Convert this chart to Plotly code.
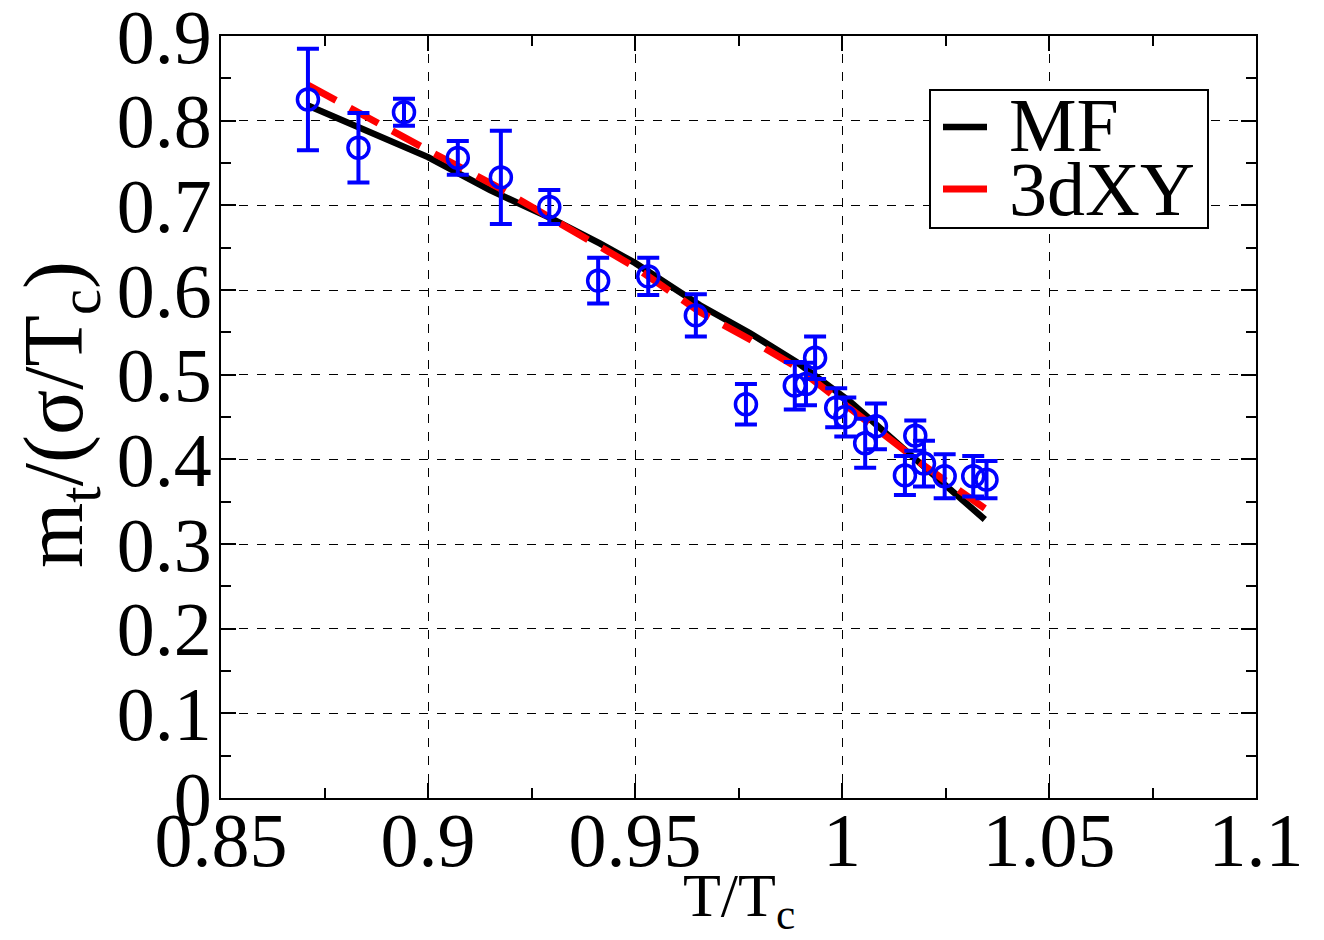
import plotly.graph_objects as go

# Measured top-mode mass over reduced temperature
T_data = [0.871, 0.8832, 0.8942, 0.9072, 0.9176, 0.9293, 0.9411, 0.9532, 0.9647,
          0.9768, 0.9886, 0.9913, 0.9935, 0.9986, 1.0008, 1.0056, 1.0082, 1.0152,
          1.0177, 1.0198, 1.0248, 1.0317, 1.0349]
m_data = [0.825, 0.768, 0.810, 0.756, 0.733, 0.698, 0.611, 0.616, 0.570,
          0.465, 0.487, 0.489, 0.520, 0.461, 0.450, 0.419, 0.439, 0.381,
          0.428, 0.395, 0.380, 0.380, 0.376]
m_err = [0.060, 0.041, 0.016, 0.020, 0.055, 0.020, 0.027, 0.022, 0.025,
         0.024, 0.028, 0.025, 0.025, 0.023, 0.023, 0.029, 0.027, 0.023,
         0.018, 0.027, 0.026, 0.024, 0.022]

# Mean-field fit curve
T_mf = [0.871, 0.885, 0.900, 0.915, 0.930, 0.9415, 0.950, 0.9657, 0.9778,
        0.989, 1.002, 1.018, 1.0345]
m_mf = [0.818, 0.788, 0.757, 0.718, 0.684, 0.655, 0.632, 0.582, 0.549,
        0.515, 0.468, 0.399, 0.329]

# 3d XY fit curve
T_xy = [0.871, 0.885, 0.900, 0.9174, 0.935, 0.950, 0.9657, 0.978, 0.989,
        1.0063, 1.020, 1.0345]
m_xy = [0.842, 0.804, 0.765, 0.720, 0.670, 0.627, 0.574, 0.541, 0.509,
        0.4425, 0.392, 0.342]

x_ticks = [0.85, 0.9, 0.95, 1.0, 1.05, 1.1]
x_ticktext = ["0.85", "0.9", "0.95", "1", "1.05", "1.1"]
y_ticks = [0, 0.1, 0.2, 0.3, 0.4, 0.5, 0.6, 0.7, 0.8, 0.9]
y_ticktext = ["0", "0.1", "0.2", "0.3", "0.4", "0.5", "0.6", "0.7", "0.8", "0.9"]

FONT = "Liberation Serif"
MF_COLOR = "black"
XY_COLOR = "#ff0000"
DATA_COLOR = "#0000ff"

# plot-area geometry in pixels, used to place the legend box and titles
W, H = 1324, 940
L, R, T, B = 221, 68, 36, 142
PW, PH = W - L - R, H - T - B


def px_x(p):
    return (p - L) / PW


def px_y(p):
    return (H - B - p) / PH


fig = go.Figure()

fig.add_trace(go.Scatter(
    x=T_mf, y=m_mf, mode="lines", name="MF", showlegend=False,
    line=dict(color=MF_COLOR, width=6.5),
))
fig.add_trace(go.Scatter(
    x=T_xy, y=m_xy, mode="lines", name="3dXY", showlegend=False,
    line=dict(color=XY_COLOR, width=7, dash="32px,16px"),
))
fig.add_trace(go.Scatter(
    x=T_data, y=m_data, mode="markers", showlegend=False,
    marker=dict(symbol="circle-open", size=21, color=DATA_COLOR,
                line=dict(color=DATA_COLOR, width=3.5)),
    error_y=dict(type="data", array=m_err, visible=True,
                 color=DATA_COLOR, thickness=4, width=11),
))

axis_common = dict(
    showline=True, linecolor="black", linewidth=2, mirror="ticks",
    ticks="inside", ticklen=15, tickwidth=1.5, tickcolor="black",
    showgrid=True, gridcolor="black", gridwidth=1, griddash="dash",
    zeroline=False, automargin=False, ticklabeloverflow="allow",
    tickfont=dict(family=FONT, size=76, color="black"),
)

fig.update_xaxes(
    range=[0.85, 1.1], tickvals=x_ticks, ticktext=x_ticktext,
    minor=dict(dtick=0.025, ticks="inside", ticklen=10, tickcolor="black",
               tickwidth=1.5, showgrid=False),
    ticklabelstandoff=-25,
    **axis_common,
)
fig.update_yaxes(
    range=[0, 0.9], tickvals=y_ticks, ticktext=y_ticktext,
    minor=dict(dtick=0.05, ticks="inside", ticklen=10, tickcolor="black",
               tickwidth=1.5, showgrid=False),
    ticklabelstandoff=-8,
    **axis_common,
)

# axis titles
annotations = [
    dict(text="T/T<sub>c</sub>", xref="paper", yref="paper",
         x=0.5, y=px_y(859), xanchor="center", yanchor="top", showarrow=False,
         font=dict(family=FONT, size=62, color="black")),
    dict(text="m<sub>t</sub>/(σ/T<sub>c</sub>)", xref="paper", yref="paper",
         x=px_x(60), y=px_y(415), xanchor="center", yanchor="middle",
         textangle=-90, showarrow=False,
         font=dict(family=FONT, size=84, color="black")),
]

# legend box with line samples
legend_items = [("MF", MF_COLOR, 6.5, 127, 125), ("3dXY", XY_COLOR, 7, 189, 189)]
shapes = [
    dict(type="rect", xref="paper", yref="paper",
         x0=px_x(930), x1=px_x(1208), y0=px_y(228), y1=px_y(90),
         line=dict(color="black", width=2), fillcolor="white", layer="above"),
]
for label, color, lw, y_line, y_text in legend_items:
    shapes.append(dict(type="line", xref="paper", yref="paper",
                       x0=px_x(943), x1=px_x(987), y0=px_y(y_line), y1=px_y(y_line),
                       line=dict(color=color, width=lw), layer="above"))
    annotations.append(dict(text=label, xref="paper", yref="paper",
                            x=px_x(1007), y=px_y(y_text), xanchor="left",
                            yanchor="middle", showarrow=False,
                            font=dict(family=FONT, size=76, color="black")))

fig.update_layout(
    width=W, height=H,
    margin=dict(l=L, r=R, t=T, b=B),
    paper_bgcolor="white", plot_bgcolor="white",
    font=dict(family=FONT, color="black"),
    showlegend=False,
    shapes=shapes,
    annotations=annotations,
)

fig.write_html("out.html")
